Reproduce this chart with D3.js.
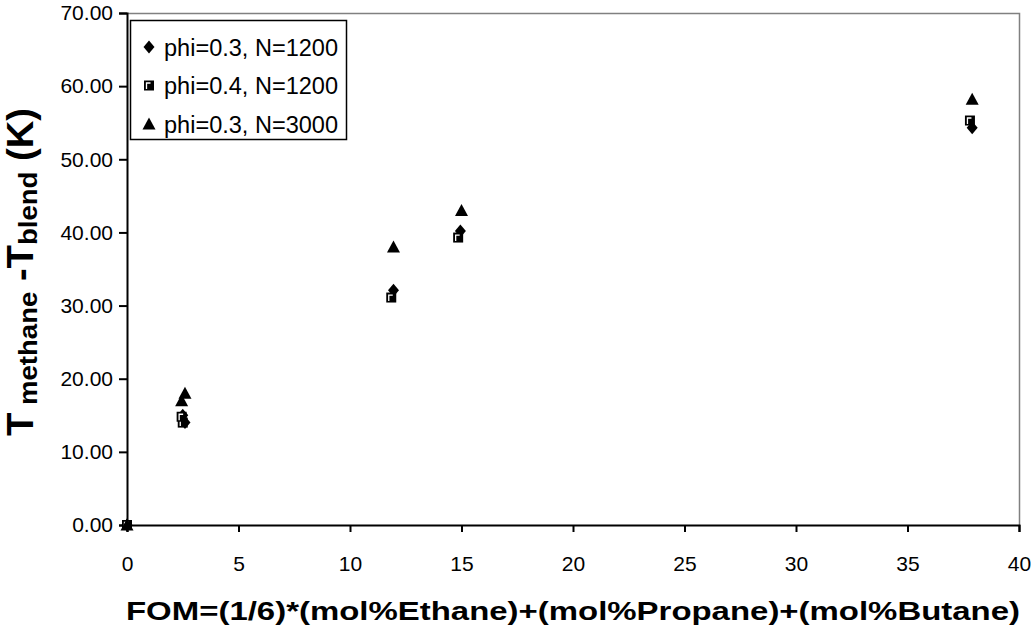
<!DOCTYPE html>
<html>
<head>
<meta charset="utf-8">
<script src="https://cdn.jsdelivr.net/npm/d3@7"></script>
<style>
  body { margin: 0; background: #fff; }
  text { font-family: "Liberation Sans", Arial, sans-serif; }
</style>
</head>
<body>
<div id="chart"></div>
<script>
// values
var seriesNames = ['phi=0.3, N=1200', 'phi=0.4, N=1200', 'phi=0.3, N=3000']
var fomA = [0, 2.6, 2.5, 11.95, 14.95, 37.9]
var dtA  = [0, 14.0, 15.0, 32.1, 40.2, 54.3]
var fomB = [0, 2.5, 2.45, 11.85, 14.85, 37.8]
var dtB  = [0, 14.0, 14.8, 31.1, 39.3, 55.3]
var fomC = [0, 2.45, 2.6, 11.95, 15.0, 37.9]
var dtC  = [0, 17.0, 18.0, 38.0, 43.0, 58.2]
var xTicks = [0, 5, 10, 15, 20, 25, 30, 35, 40]
var yTicks = [0, 10, 20, 30, 40, 50, 60, 70]

var w = 1034, h = 628
var margin = { top: 13, right: 15, bottom: 103, left: 127 }

var svg = d3.select('#chart').append('svg')
  .attr('width', w).attr('height', h)

var x = d3.scaleLinear().domain([0, 40]).range([margin.left, w - margin.right])
var y = d3.scaleLinear().domain([0, 70]).range([h - margin.bottom, margin.top])

// gray frame on top / right
svg.append('path')
  .attr('d', 'M' + x(0) + ',' + (y(70) + 0.5) + 'H' + (x(40) + 0.5) + 'V' + y(0))
  .attr('fill', 'none').attr('stroke', '#808080').attr('stroke-width', 1.5)

var xAxis = svg.append('g')
  .attr('transform', 'translate(0,' + y(0) + ')')
  .call(d3.axisBottom(x).tickValues(xTicks).tickSize(7).tickPadding(24))
var yAxis = svg.append('g')
  .attr('transform', 'translate(' + x(0) + ',0)')
  .call(d3.axisLeft(y).tickValues(yTicks).tickSize(8).tickPadding(6).tickFormat(d3.format('.2f')))

svg.selectAll('.domain').attr('stroke', '#000').attr('stroke-width', 2)
svg.selectAll('.tick line').attr('stroke', '#000').attr('stroke-width', 2)
svg.selectAll('.tick text').attr('font-size', 21).attr('fill', '#000')
  .style('font-family', '"Liberation Sans", Arial, sans-serif')

// markers
function diamond(g) {
  g.append('path').attr('d', 'M0,-6.5L5.5,0L0,6.5L-5.5,0Z').attr('fill', '#000')
}
function square(g) {
  g.append('rect').attr('x', -5).attr('y', -5).attr('width', 10).attr('height', 10).attr('fill', '#000')
  g.append('path').attr('d', 'M-2.5,3.5V-2.5H1.5').attr('fill', 'none').attr('stroke', '#fff').attr('stroke-width', 1.3)
}
function triangle(g) {
  g.append('path').attr('d', 'M0,-6.5L6.5,5.5H-6.5Z').attr('fill', '#000')
}

var series = [
  { fom: fomA, dt: dtA, mark: diamond },
  { fom: fomB, dt: dtB, mark: square },
  { fom: fomC, dt: dtC, mark: triangle }
]

series.forEach(function(s) {
  s.fom.forEach(function(f, i) {
    var g = svg.append('g').attr('transform', 'translate(' + x(f) + ',' + y(s.dt[i]) + ')')
    s.mark(g)
  })
})

// legend
var lg = svg.append('g').attr('transform', 'translate(130,20)')
lg.append('rect').attr('x', 0.5).attr('y', 0.5).attr('width', 216).attr('height', 119)
  .attr('fill', '#fff').attr('stroke', '#000').attr('stroke-width', 1.5)
seriesNames.forEach(function(name, i) {
  var yy = 27 + i * 38.5
  var g = lg.append('g').attr('transform', 'translate(19,' + yy + ')')
  series[i].mark(g)
  lg.append('text').attr('x', 34).attr('y', yy + 8.5).attr('font-size', 23)
    .attr('textLength', 174).attr('lengthAdjust', 'spacingAndGlyphs')
    .text(name)
})

// x title
svg.append('text')
  .attr('x', (x(0) + x(40)) / 2).attr('y', 620)
  .attr('text-anchor', 'middle').attr('font-size', 26).attr('font-weight', 'bold')
  .attr('textLength', 894).attr('lengthAdjust', 'spacingAndGlyphs')
  .text('FOM=(1/6)*(mol%Ethane)+(mol%Propane)+(mol%Butane)')

// y title
var yt = svg.append('text')
  .attr('transform', 'translate(33,' + ((y(0) + y(70)) / 2 + 3) + ') rotate(-90)')
  .attr('text-anchor', 'middle').attr('font-weight', 'bold').attr('font-size', 36)
  .attr('textLength', 328).attr('lengthAdjust', 'spacingAndGlyphs')
yt.append('tspan').text('T')
yt.append('tspan').attr('font-size', 26).attr('dy', 4).text(' methane')
yt.append('tspan').attr('dy', -4).text(' -T')
yt.append('tspan').attr('font-size', 26).attr('dy', 4).text('blend')
yt.append('tspan').attr('dy', -4).text(' (K)')
</script>
</body>
</html>
